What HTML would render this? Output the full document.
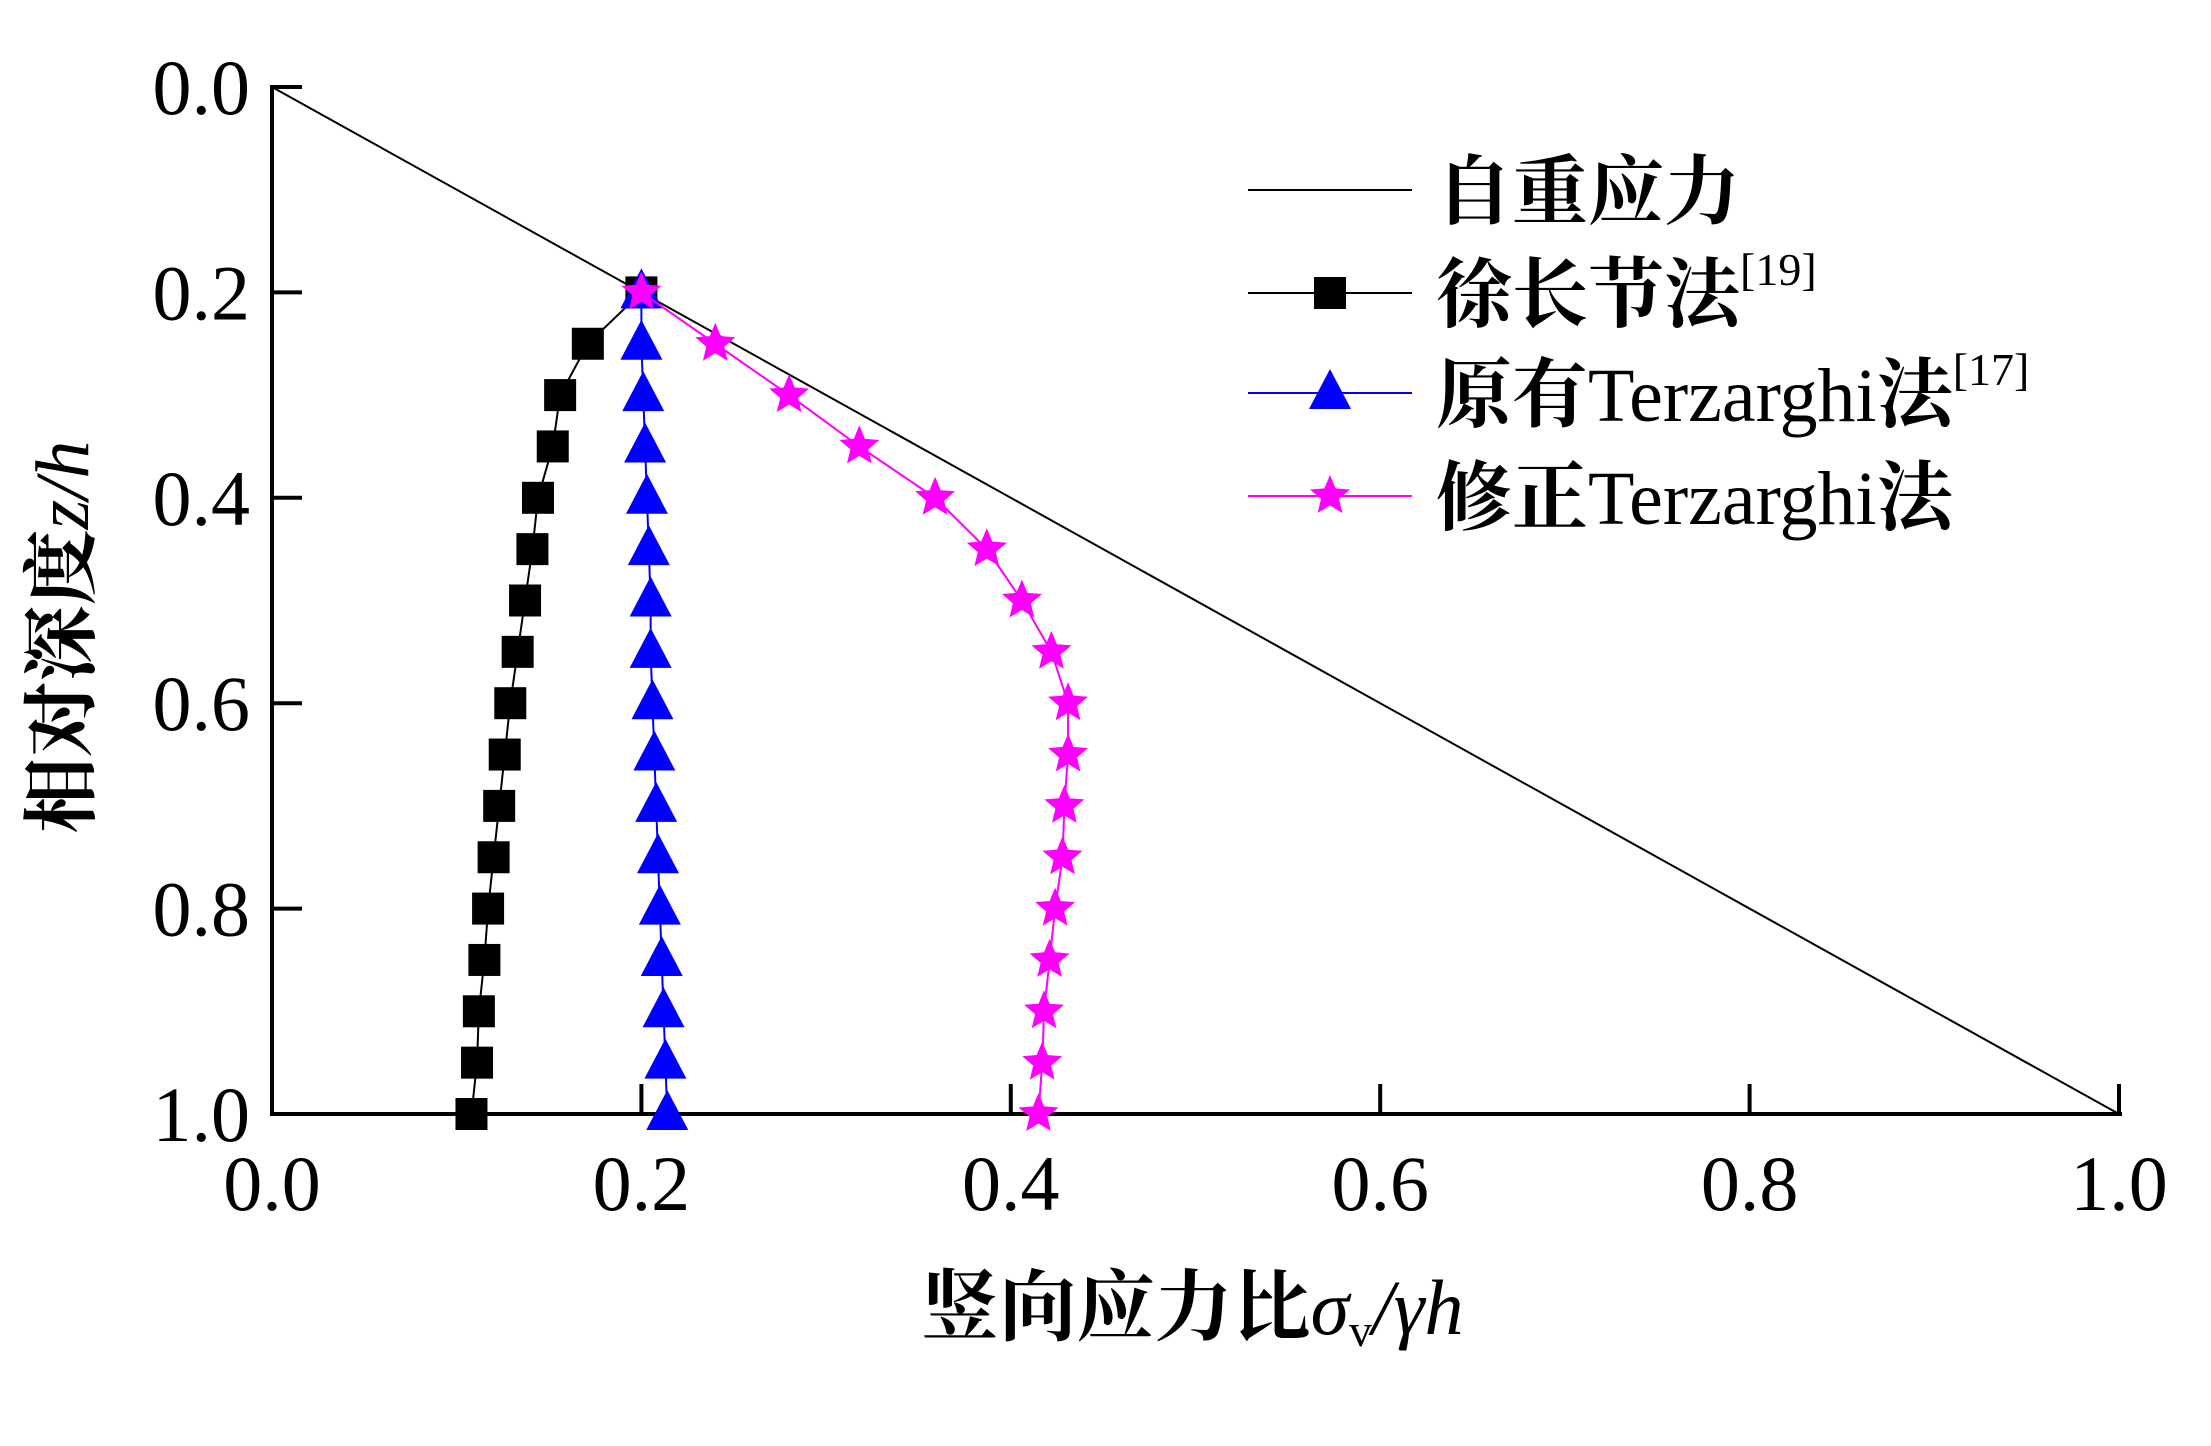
<!DOCTYPE html>
<html><head><meta charset="utf-8">
<style>html,body{margin:0;padding:0;background:#fff;}svg{display:block;}</style></head>
<body>
<svg id="chart" width="2211" height="1446" viewBox="0 0 2211 1446" xmlns="http://www.w3.org/2000/svg" font-family="'Liberation Serif','Noto Serif CJK SC',serif"></svg>
<script>
const depths=[0.2,0.25,0.3,0.35,0.4,0.45,0.5,0.55,0.6,0.65,0.7,0.75,0.8,0.85,0.9,0.95,1.0];
const xuValues=[0.2,0.171,0.156,0.152,0.144,0.141,0.137,0.133,0.129,0.126,0.123,0.120,0.117,0.115,0.112,0.111,0.108];
const terzValues=[0.2,0.200,0.201,0.202,0.203,0.204,0.205,0.205,0.206,0.207,0.208,0.209,0.210,0.211,0.212,0.213,0.214];
const modValues=[0.2,0.240,0.280,0.318,0.359,0.387,0.406,0.422,0.431,0.431,0.429,0.428,0.424,0.421,0.418,0.417,0.415];
const selfX=[0,1];
const selfZ=[0,1];
const xTicks=[0,0.2,0.4,0.6,0.8,1.0];
const yTicks=[0,0.2,0.4,0.6,0.8,1.0];

const svg=document.getElementById('chart');
const NS='http://www.w3.org/2000/svg';
const X0=272,X1=2119,Y0=87,Y1=1114;
const sx=v=>X0+(X1-X0)*v, sy=v=>Y0+(Y1-Y0)*v;
function mk(tag,attrs,parent){const e=document.createElementNS(NS,tag);for(const k in attrs)e.setAttribute(k,attrs[k]);(parent||svg).appendChild(e);return e;}

let e=mk('line',{x1:X0,y1:Y0-2,x2:X0,y2:Y1,stroke:'#000','stroke-width':4});


e=mk('line',{x1:X0-2,y1:Y1,x2:X1+3,y2:Y1,stroke:'#000','stroke-width':4});


xTicks.forEach(t=>{
  const l=mk('line',{x1:sx(t),y1:Y1,x2:sx(t),y2:Y1-30,stroke:'#000','stroke-width':4});
  
  
  const tx=mk('text',{x:sx(t),y:Y1+96,'font-size':78,'text-anchor':'middle'});
  tx.textContent=t.toFixed(1);
  
  
});
yTicks.forEach(t=>{
  const l=mk('line',{x1:X0,y1:sy(t),x2:X0+30,y2:sy(t),stroke:'#000','stroke-width':4});
  
  
  const tx=mk('text',{x:X0-22,y:sy(t)+27,'font-size':78,'text-anchor':'end'});
  tx.textContent=t.toFixed(1);
  
  
});

e=mk('polyline',{points:selfX.map((v,i)=>sx(v)+','+sy(selfZ[i])).join(' '),fill:'none',stroke:'#000','stroke-width':2});



function series(vals,color,name,marker){
  const g=mk('g',{});
  
  
  mk('polyline',{points:vals.map((v,i)=>sx(v)+','+sy(depths[i])).join(' '),fill:'none',stroke:color,'stroke-width':2},g);
  vals.forEach((v,i)=>{
    const m=marker(sx(v),sy(depths[i]),g);
    
    
  });
}
function sq(x,y,g){return mk('rect',{x:x-16,y:y-16,width:32,height:32,fill:'#000'},g);}
function tri(x,y,g){return mk('polygon',{points:`${x},${y-24} ${x-21},${y+16} ${x+21},${y+16}`,fill:'#0000ff'},g);}
function star(x,y,g,r=21){let p=[];for(let k=0;k<10;k++){const a=-Math.PI/2+k*Math.PI/5;const rr=k%2?r*0.45:r;p.push((x+rr*Math.cos(a)).toFixed(1)+','+(y+rr*Math.sin(a)).toFixed(1));}return mk('polygon',{points:p.join(' '),fill:'#ff00ff'},g);}
series(xuValues,'#000','xu-series',sq);
series(terzValues,'#0000ff','terzaghi-series',tri);
series(modValues,'#ff00ff','modified-terzaghi-series',star);

const legY=[190,293,393,496];
const legHtml=['自重应力','徐长节法<tspan font-size="46" font-weight="normal" dy="-36">[19]</tspan>',
 '原有<tspan font-weight="normal">Terzarghi</tspan>法<tspan font-size="46" font-weight="normal" dy="-36">[17]</tspan>',
 '修正<tspan font-weight="normal">Terzarghi</tspan>法'];
const legCol=['#000','#000','#0000ff','#ff00ff'];
const legMk=[null,sq,tri,star];
legY.forEach((y,i)=>{
  const g=mk('g',{});
  
  
  mk('line',{x1:1248,y1:y,x2:1412,y2:y,stroke:legCol[i],'stroke-width':2},g);
  if(legMk[i])legMk[i](1330,y,g);
  const t=mk('text',{x:1436,y:y+28,'font-size':76,'font-weight':'bold'},g);
  t.innerHTML=legHtml[i];
});

e=mk('text',{x:1192,y:1334,'font-size':78,'text-anchor':'middle','font-weight':'bold'});
e.innerHTML='竖向应力比<tspan font-style="italic" font-weight="normal">σ</tspan><tspan font-size="46" font-weight="normal" dy="12">v</tspan><tspan dy="-12" font-style="italic" font-weight="normal">/γh</tspan>';


e=mk('text',{x:0,y:0,'font-size':76,'text-anchor':'middle','font-weight':'bold',transform:'translate(88,637) rotate(-90)'});
e.innerHTML='相对深度<tspan font-style="italic" font-weight="normal">z/h</tspan>';


</script>
</body></html>
